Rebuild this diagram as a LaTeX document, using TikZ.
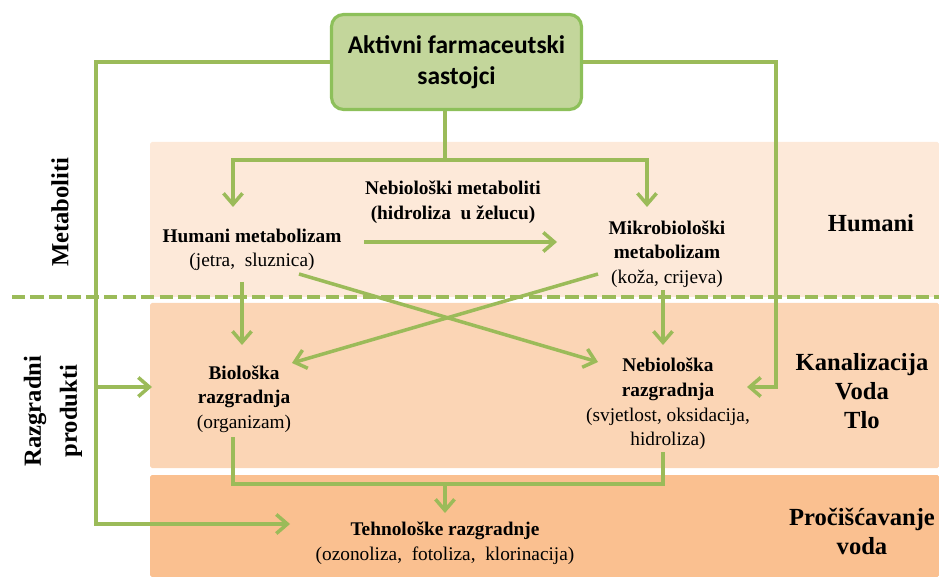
\documentclass[tikz,border=0pt]{standalone}
\usepackage{fontspec}
\setmainfont{Liberation Serif}
\newfontfamily\calibri{Carlito}
\usetikzlibrary{arrows.meta}
\definecolor{lineGreen}{HTML}{9BBB59}
\definecolor{boxGreen}{HTML}{C3D69B}
\definecolor{boxEdge}{HTML}{8DC05A}
\definecolor{bandA}{HTML}{FDE9D9}
\definecolor{bandB}{HTML}{FBD5B5}
\definecolor{bandC}{HTML}{FAC090}

\begin{document}
\begin{tikzpicture}[x=0.02cm,y=-0.02cm]

    \tikzset{
      flow/.style={
        draw=lineGreen,
        line width=2pt,
      },
      arr/.style={
        flow,
        -{Straight Barb[length=2.2mm,width=3.8mm]},
      },
      dashline/.style={
        draw=lineGreen,
        line width=2.4pt,
        dash pattern=on 7.5pt off 3pt,
      },
      txt/.style={
        align=center,
        inner sep=0pt,
        font=\fontsize{11}{14}\selectfont,
      },
      side/.style={
        align=center,
        inner sep=0pt,
        font=\bfseries\fontsize{14}{16.5}\selectfont,
      },
      bigbox/.style={
        draw=boxEdge,
        fill=boxGreen,
        line width=1.8pt,
        rounded corners=2.4mm,
        minimum width=5cm,
        minimum height=1.9cm,
        align=center,
        font=\calibri\bfseries\fontsize{14.5}{17.5}\selectfont,
      },
    }
    \useasboundingbox (0,0) rectangle (939,577);

    % bands
    \fill[bandA, rounded corners=1pt] (150,142) rectangle (939,297);
    \fill[bandB, rounded corners=1pt] (150,303) rectangle (939,468);
    \fill[bandC, rounded corners=1pt] (150,475) rectangle (939,577);
    \draw[dashline] (12,297) -- (939,297);

    % text
    \node[bigbox] (api) at (456.5,62) {Aktivni farmaceutski\\sastojci};
    \node[txt] (hum) at (252,250) {\textbf{Humani metabolizam}\\(jetra,\ \ sluznica)};
    \node[txt, font=\bfseries\fontsize{11}{14}\selectfont] (nmet) at (453,202) {Nebiološki metaboliti\\(hidroliza\ \ u želucu)};
    \node[txt] (mik) at (667,254) {\textbf{Mikrobiološki}\\\textbf{metabolizam}\\(koža, crijeva)};
    \node[txt] (bio) at (244,399) {\textbf{Biološka}\\\textbf{razgradnja}\\(organizam)};
    \node[txt] (nebr) at (668,404) {\textbf{Nebiološka}\\\textbf{razgradnja}\\(svjetlost, oksidacija,\\hidroliza)};
    \node[txt] (teh) at (445,543) {\textbf{Tehnološke razgradnje}\\(ozonoliza,\ \ fotoliza,\ \ klorinacija)};
    \node[side] (hlab) at (871,223) {Humani};
    \node[side] (kvt) at (862,391) {Kanalizacija\\Voda\\Tlo};
    \node[side] (proc) at (862,531) {Pročišćavanje\\voda};
    \node[side, rotate=90] (meta) at (60,212) {Metaboliti};
    \node[side, rotate=90, font=\bfseries\fontsize{14}{20.5}\selectfont] (razg) at (53,411) {Razgradni\\produkti};

    % connector ends
    \coordinate (split) at (445,160);
    \coordinate (humTop) at (233,207);
    \coordinate (mikTop) at (647,207);
    \coordinate (humR) at (364,242);
    \coordinate (mikL) at (557,242);
    \coordinate (humB) at (242,282);
    \coordinate (bioT) at (242,345);
    \coordinate (mikB) at (663,290);
    \coordinate (nebT) at (663,345);
    \coordinate (humX) at (299,274);
    \coordinate (nebX) at (598,362);
    \coordinate (mikX) at (598,274);
    \coordinate (bioX) at (292,363);
    \coordinate (bioB) at (233,437);
    \coordinate (nebB) at (663,452);
    \coordinate (join) at (445,484);
    \coordinate (tehT) at (445,513);
    \coordinate (lb) at (96,524);
    \coordinate (lm) at (96,387);
    \coordinate (bioL) at (152,387);
    \coordinate (tehL) at (290,524);
    \coordinate (rb) at (776,387);
    \coordinate (nebR) at (747,387);

    % arrows
    \draw[flow] (api.south -| split) -- (split);
    \draw[arr] (split) -| (humTop);
    \draw[arr] (split) -| (mikTop);
    \draw[arr] (humR) -- (mikL);
    \draw[arr] (humB) -- (bioT);
    \draw[arr] (mikB) -- (nebT);
    \draw[arr] (humX) -- (nebX);
    \draw[arr] (mikX) -- (bioX);
    \draw[flow] (bioB) |- (join) -| (nebB);
    \draw[arr] (join) -- (tehT);
    \draw[arr] (api.west) -| (lb) -- (tehL);
    \draw[arr] (lm) -- (bioL);
    \draw[arr] (api.east) -| (rb) -- (nebR);

\end{tikzpicture}
\end{document}
